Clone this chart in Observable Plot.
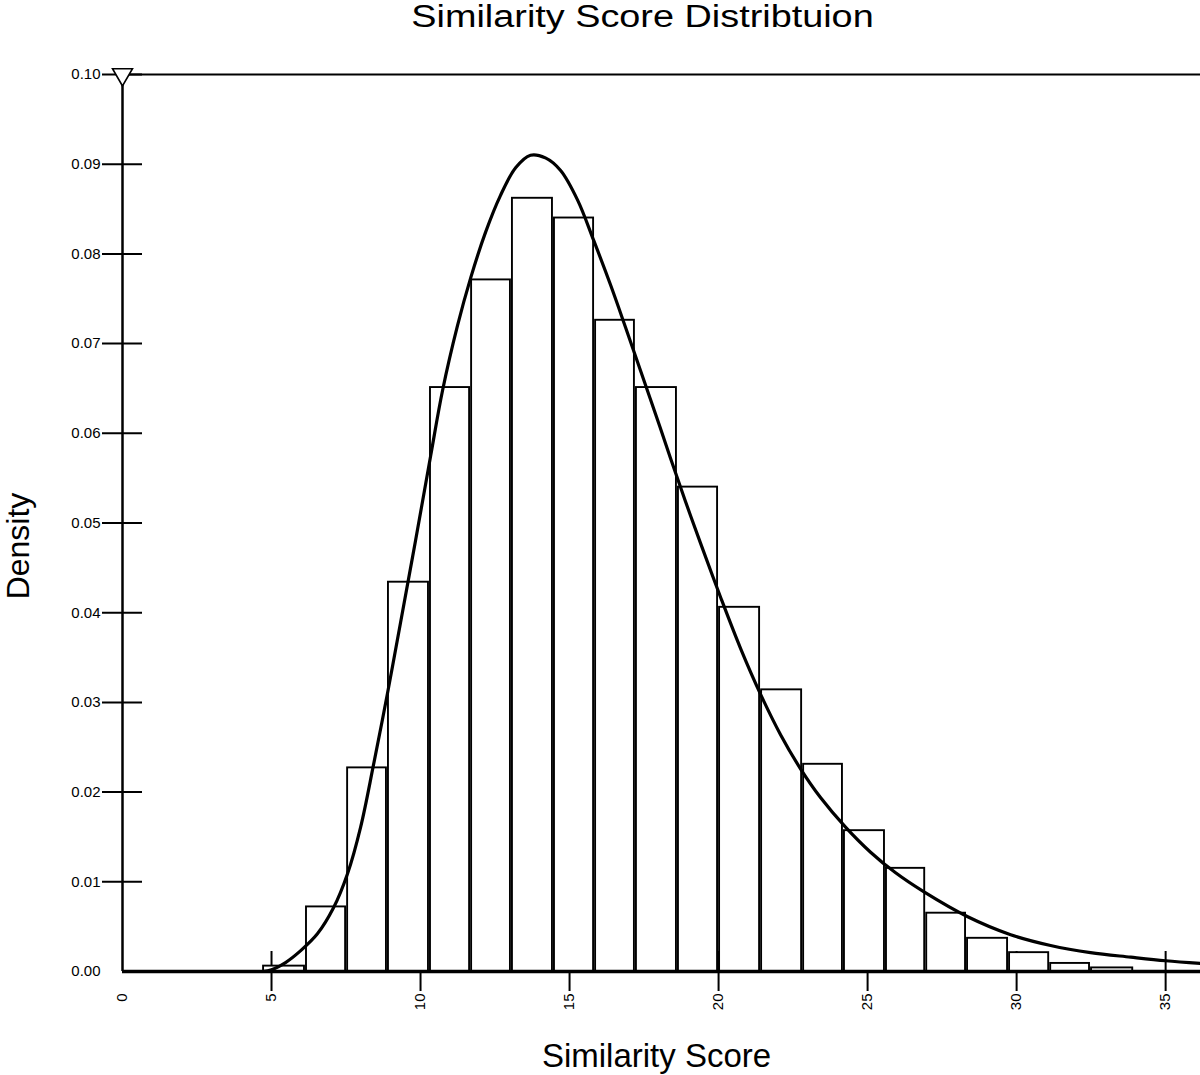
<!DOCTYPE html>
<html>
<head>
<meta charset="utf-8">
<script src="https://cdn.jsdelivr.net/npm/d3@7"></script>
<script src="https://cdn.jsdelivr.net/npm/@observablehq/plot@0.6"></script>
<style>
  html, body { margin: 0; padding: 0; background: #fff; }
  #title { width: 1200px; box-sizing: border-box; padding-left: 84px; height: 36px; overflow: visible;
           text-align: center; font-family: "Liberation Sans", Arial, sans-serif; font-size: 31px; line-height: 34px;
           color: #000; }
  #title span { display: inline-block; transform: scaleX(1.22); transform-origin: 50% 50%; }
</style>
</head>
<body>
<div id="title"><span>Similarity Score Distribtuion</span></div>
<div id="chart"></div>
<script>
// Histogram bin edges (Similarity Score) and bar densities
const binEdges = [4.70, 6.14, 7.52, 8.89, 10.30, 11.68, 13.05, 14.46, 15.84, 17.21, 18.62,
                  20.00, 21.41, 22.82, 24.19, 25.60, 26.95, 28.32, 29.73, 31.11, 32.48, 33.93];
const barDensity = [0.0006, 0.0072, 0.0227, 0.0434, 0.0651, 0.0771, 0.0862, 0.0840, 0.0726, 0.0651, 0.0540,
                    0.0406, 0.0314, 0.0231, 0.0157, 0.0115, 0.0065, 0.0037, 0.0021, 0.0009, 0.0004];

// Fitted density curve
const curveX = [4.70, 5.00, 5.47, 5.97, 6.54, 7.08, 7.55, 7.99, 8.42, 8.89, 9.33, 9.83, 10.34, 10.74,
                11.24, 11.68, 12.18, 12.68, 13.19, 13.69, 14.19, 14.70, 15.27, 15.81, 16.38, 16.88, 17.38,
                17.89, 18.39, 18.89, 19.40, 20.07, 20.74, 21.41, 22.08, 22.75, 23.42, 24.26, 25.10, 25.94,
                26.88, 28.36, 29.80, 31.14, 32.48, 33.83, 35.00, 36.17];
const curveY = [0.0000, 0.0002, 0.0010, 0.0023, 0.0042, 0.0071, 0.0109, 0.0161, 0.0230, 0.0310, 0.0389, 0.0480,
                0.0575, 0.0648, 0.0720, 0.0773, 0.0824, 0.0865, 0.0896, 0.0910, 0.0907, 0.0893, 0.0860, 0.0815,
                0.0765, 0.0718, 0.0670, 0.0621, 0.0572, 0.0524, 0.0477, 0.0417, 0.0360, 0.0309, 0.0264, 0.0226,
                0.0194, 0.0161, 0.0133, 0.0110, 0.0089, 0.0061, 0.0041, 0.0029, 0.0021, 0.0016, 0.0012, 0.0009];

const xTicks = [0, 5, 10, 15, 20, 25, 30, 35];
const yTicks = [0.00, 0.01, 0.02, 0.03, 0.04, 0.05, 0.06, 0.07, 0.08, 0.09, 0.10];
const xDomain = [0, 36.17];
const yDomain = [0, 0.10];
const xLabel = "Similarity Score";
const yLabel = "Density";

const bars = barDensity.map((d, i) => ({x1: binEdges[i], x2: binEdges[i + 1], y: d}));
const curve = curveX.map((x, i) => ({x, y: curveY[i]}));

const chart = Plot.plot({
  width: 1200,
  height: 1039,
  marginTop: 38,
  marginBottom: 104,
  marginLeft: 122,
  marginRight: 0,
  style: {fontFamily: "'Liberation Sans', Arial, sans-serif", fontSize: "15px", color: "#000", background: "#fff", overflow: "visible"},
  x: {domain: xDomain, axis: null},
  y: {domain: yDomain, axis: null},
  marks: [
    // crossing tick marks
    Plot.ruleY(yTicks.filter(d => d > 0), {x1: xDomain[0], x2: xDomain[0], insetLeft: 20, insetRight: 20, stroke: "#000", strokeWidth: 2}),
    Plot.ruleX(xTicks.filter(d => d > 0), {y1: yDomain[0], y2: yDomain[0], insetTop: 20, insetBottom: 20, stroke: "#000", strokeWidth: 2}),
    // histogram
    Plot.rectY(bars, {x1: "x1", x2: "x2", y: "y", fill: "#fff", stroke: "#000", strokeWidth: 1.9, insetLeft: 1, insetRight: 1}),
    // density curve
    Plot.line(curve, {x: "x", y: "y", stroke: "#000", strokeWidth: 3.2, curve: "catmull-rom"}),
    // frame lines
    Plot.ruleX([xDomain[0]], {y1: yDomain[0], y2: yDomain[1], stroke: "#000", strokeWidth: 2.5}),
    Plot.ruleY([yDomain[1]], {stroke: "#000", strokeWidth: 2.2}),
    Plot.ruleY([yDomain[0]], {stroke: "#000", strokeWidth: 3.5}),
    // open triangle marker at top of y axis
    Plot.dot([{x: xDomain[0], y: yDomain[1]}], {x: "x", y: "y", symbol: "triangle", rotate: 180, r: 7.4, fill: "#fff", stroke: "#000", strokeWidth: 1.6}),
    // tick labels
    Plot.axisY({ticks: yTicks, tickSize: 0, tickPadding: 22, tickFormat: d3.format(".2f"), fontSize: 15, label: null}),
    Plot.axisX({ticks: xTicks, tickSize: 0, tickPadding: 22, tickRotate: -90, tickFormat: d3.format("d"), fontSize: 15, label: null}),
    // axis titles
    Plot.text([xLabel], {text: d => d, frameAnchor: "bottom", lineAnchor: "middle", textAnchor: "middle", dx: -5, dy: 85, fontSize: 33}),
    Plot.text([yLabel], {text: d => d, frameAnchor: "left", lineAnchor: "middle", textAnchor: "middle", rotate: -90, dx: -104, dy: 23, fontSize: 32})
  ]
});
document.getElementById("chart").appendChild(chart);
</script>
</body>
</html>
